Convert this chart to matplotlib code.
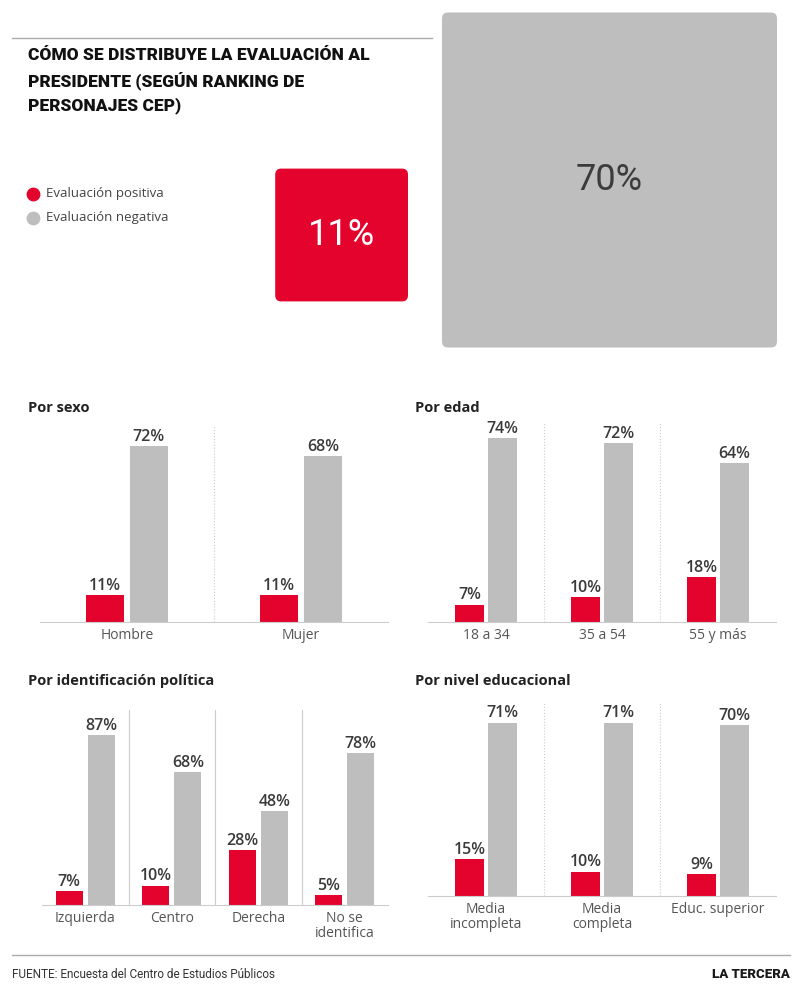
import numpy as np
import matplotlib
matplotlib.use("Agg")
import matplotlib.pyplot as plt
from matplotlib.patches import FancyBboxPatch

# -----------------------------
# Data
# -----------------------------
total_labels = ["Evaluación positiva", "Evaluación negativa"]
total_values = [11, 70]

sexo_cats = ["Hombre", "Mujer"]
sexo_pos = [11, 11]
sexo_neg = [72, 68]

edad_cats = ["18 a 34", "35 a 54", "55 y más"]
edad_pos = [7, 10, 18]
edad_neg = [74, 72, 64]

pol_cats = ["Izquierda", "Centro", "Derecha", "No se\nidentifica"]
pol_pos = [7, 10, 28, 5]
pol_neg = [87, 68, 48, 78]

edu_cats = ["Media\nincompleta", "Media\ncompleta", "Educ. superior"]
edu_pos = [15, 10, 9]
edu_neg = [71, 71, 70]

RED = "#e3032d"
GRAY = "#bebebe"
W, H = 800, 989

NARROW = ["Roboto", "DejaVu Sans"]
plt.rcParams["font.family"] = ["Open Sans", "DejaVu Sans"]

fig = plt.figure(figsize=(W / 100, H / 100), dpi=100)
fig.patch.set_facecolor("white")


def px_axes(x0, y0, x1, y1):
    # axes from pixel box (top-left origin)
    return fig.add_axes([x0 / W, 1 - y1 / H, (x1 - x0) / W, (y1 - y0) / H])


# overlay axes in pixel units for the header / footer
over = px_axes(0, 0, W, H)
over.set_xlim(0, W)
over.set_ylim(H, 0)
over.axis("off")

over.plot([12, 432], [38, 38], color="#aaaaaa", lw=1)
over.plot([12, 790], [955, 955], color="#aaaaaa", lw=1)

title = "CÓMO SE DISTRIBUYE LA EVALUACIÓN AL\nPRESIDENTE (SEGÚN RANKING DE\nPERSONAJES CEP)"
over.text(28, 47, title, family=NARROW, fontsize=12.5, fontweight="heavy",
          color="#111111", va="top", ha="left", linespacing=1.55)

# legend
for i, (lab, col) in enumerate(zip(total_labels, [RED, GRAY])):
    y = 194 + i * 24
    over.scatter([33], [y], s=80, color=col, zorder=3)
    over.text(46, y, lab, fontsize=9.5, color="#444444", va="center", ha="left")

# area-proportional squares
k = 335 / np.sqrt(max(total_values))
side_pos = k * np.sqrt(total_values[0])
side_neg = k * np.sqrt(total_values[1])
sq = [
    (408 - side_pos, 235 - side_pos / 2, side_pos, RED, "white"),
    (442, 180 - side_neg / 2, side_neg, GRAY, "#3c3c3c"),
]
for (x0, y0, s, col, tcol), v in zip(sq, total_values):
    over.add_patch(FancyBboxPatch((x0 + 6, y0 + 6), s - 12, s - 12,
                                  boxstyle="round,pad=6", fc=col, ec="none"))
    over.text(x0 + s / 2, y0 + s / 2, f"{v}%", family=NARROW, fontsize=26,
              fontweight="normal", color=tcol, ha="center", va="center")

# footer
over.text(12, 975, "FUENTE: Encuesta del Centro de Estudios Públicos", family=NARROW,
          fontsize=8.5, color="#333333", va="center", ha="left")
over.text(790, 975, "LA TERCERA", family=NARROW, fontsize=9.5, fontweight="heavy",
          color="#1a1a1a", va="center", ha="right")


# -----------------------------
# Bar panels
# -----------------------------
def panel(box, scale, cats, pos, neg, title, title_xy, width, offset, sep_style):
    x0, y0, x1, y1 = box
    ax = px_axes(x0, y0, x1, y1)
    n = len(cats)
    x = np.arange(n)
    ax.bar(x - offset, pos, width, color=RED, zorder=2)
    ax.bar(x + offset, neg, width, color=GRAY, zorder=2)
    ax.set_xlim(-0.5, n - 0.5)
    ax.set_ylim(0, (y1 - y0) / scale)
    for i in range(n):
        ax.text(i - offset, pos[i] + 0.6, f"{pos[i]}%", ha="center", va="bottom",
                fontsize=11.5, fontweight="semibold", color="#3a3a3a")
        ax.text(i + offset, neg[i] + 0.6, f"{neg[i]}%", ha="center", va="bottom",
                fontsize=11.5, fontweight="semibold", color="#3a3a3a")
    for i in range(n - 1):
        ax.axvline(i + 0.5, color="#cccccc", lw=0.8, ls=sep_style, zorder=1)
    for s in ["top", "right", "left"]:
        ax.spines[s].set_visible(False)
    ax.spines["bottom"].set_color("#cccccc")
    ax.set_yticks([])
    ax.set_xticks(x)
    ax.set_xticklabels(cats, fontsize=10, color="#555555", linespacing=1.05)
    ax.tick_params(axis="x", length=0, pad=4)
    ax.patch.set_alpha(0)
    over.text(title_xy[0], title_xy[1], title, fontsize=10.5, fontweight="bold",
              color="#222222", ha="left", va="center")
    return ax


panel((40, 425, 388, 622), 2.44, sexo_cats, sexo_pos, sexo_neg, "Por sexo",
      (28, 408), 0.22, 0.126, ":")
panel((428, 423, 776, 622), 2.48, edad_cats, edad_pos, edad_neg, "Por edad",
      (415, 408), 0.25, 0.14, ":")
panel((42, 710, 388, 905), 1.95, pol_cats, pol_pos, pol_neg, "Por identificación política",
      (28, 681), 0.31, 0.185, "-")
panel((428, 702, 776, 896), 2.44, edu_cats, edu_pos, edu_neg, "Por nivel educacional",
      (415, 681), 0.25, 0.14, ":")

fig.savefig("out.png", dpi=100, facecolor="white")
